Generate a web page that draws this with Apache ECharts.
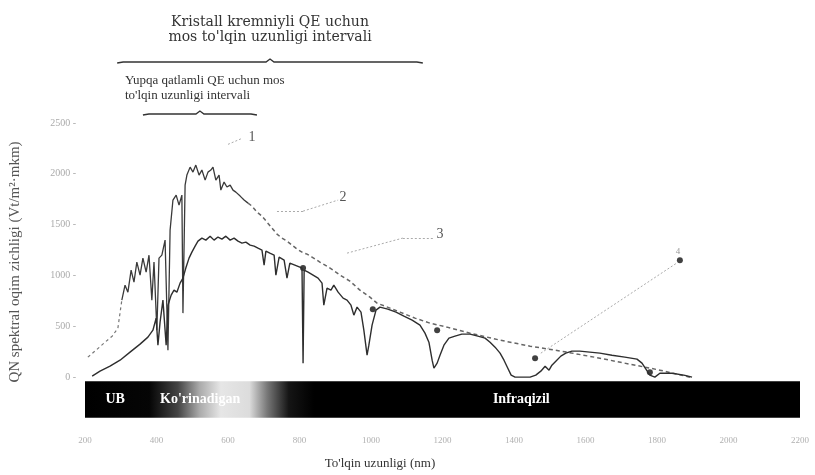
<!DOCTYPE html>
<html>
<head>
<meta charset="utf-8">
<script src="https://cdn.jsdelivr.net/npm/echarts@6/dist/echarts.min.js"></script>
<style>
  html, body { margin: 0; padding: 0; background: #fff; }
  #chart { width: 815px; height: 475px; }
</style>
</head>
<body>
<div id="chart"></div>
<script>
// Wavelength axis (nm) and flux axis (W/m²·µm)
const xMin = 200, xMax = 2200, xStep = 200;
const yMin = -500, yMax = 2500, yStep = 500;

// Curve 1: extraterrestrial spectrum — UV rise (dashed), noisy peak (solid), smooth tail (dashed)
const am0Uv = [[208,197],[231,266],[253,335],[276,403],[292,482],[303,758]];
const am0Peak = [[303,758],[312,905],[320,836],[329,1053],[337,935],[345,1132],[354,1004],[362,1171],
  [371,1033],[379,1200],[387,758],[393,1132],[401,462],[407,1171],[415,1200],[424,1348],[432,266],
  [438,1446],[446,1742],[455,1791],[463,1692],[471,1791],[474,630],[480,1889],[485,1988],[494,2066],
  [502,2017],[510,2086],[519,1988],[527,2037],[536,1938],[544,2017],[552,2037],[558,2066],[566,1938],
  [575,1988],[580,1840],[589,1919],[597,1870],[606,1889],[614,1840],[622,1820],[634,1781],[645,1742],[656,1712]];
const am0Tail = [[656,1712],[667,1683],[681,1624],[695,1584],[709,1525],[723,1466],[737,1407],[751,1368],
  [765,1338],[779,1299],[793,1260],[807,1230],[821,1210],[835,1181],[857,1132],[877,1092],[894,1053],
  [913,1004],[941,945],[969,856],[997,787],[1017,728],[1053,679],[1081,640],[1123,581],[1165,531],
  [1213,492],[1277,433],[1361,364],[1445,305],[1548,246],[1640,187],[1724,128],[1808,69],[1892,0]];

// Curve 3: ground-level spectrum with absorption bands
const am15 = [[220,10],[242,59],[270,108],[298,167],[326,246],[354,325],[376,394],[390,462],[399,581],
  [404,315],[410,541],[418,758],[427,315],[432,708],[441,807],[449,856],[457,836],[466,925],[474,974],
  [482,1073],[491,1171],[499,1230],[508,1289],[516,1338],[527,1368],[538,1348],[550,1387],[561,1348],
  [572,1378],[583,1358],[594,1387],[606,1348],[617,1368],[628,1338],[639,1319],[650,1328],[662,1299],
  [673,1289],[684,1269],[695,1250],[701,1102],[706,1240],[717,1220],[729,1200],[734,1004],[743,1181],
  [757,1151],[765,974],[773,1122],[787,1102],[801,1082],[807,1073],[810,138],[813,1053],[824,1033],
  [838,1004],[852,974],[863,925],[868,708],[877,876],[888,856],[896,905],[908,836],[922,777],[933,758],
  [944,708],[952,610],[961,689],[972,640],[980,462],[989,216],[994,315],[1003,512],[1014,659],[1025,689],
  [1047,669],[1070,640],[1092,600],[1115,561],[1137,512],[1151,433],[1162,344],[1171,167],[1176,89],
  [1185,138],[1193,216],[1204,315],[1218,384],[1235,403],[1254,423],[1277,423],[1299,403],[1319,384],
  [1333,344],[1347,295],[1361,236],[1372,167],[1380,108],[1392,20],[1403,0],[1445,0],[1461,20],[1475,59],
  [1487,108],[1498,69],[1506,118],[1517,157],[1531,207],[1545,236],[1562,256],[1584,256],[1612,246],
  [1640,236],[1674,216],[1710,197],[1744,177],[1758,138],[1769,79],[1780,20],[1794,0],[1808,39],
  [1842,39],[1875,20],[1898,0]];

// Curve 4: discrete points
const dots4 = [[810,1073],[1005,669],[1185,462],[1459,187],[1780,49]];
const dot4Label = [1864,1151];

// Curve number labels and their leader lines
const curveLabels = [
  { text: '1', at: [667,2361] },
  { text: '2', at: [922,1771] },
  { text: '3', at: [1193,1407] }
];
const leaders = [
  [[600,2290],[640,2350]],
  [[737,1633],[810,1633],[908,1742]],
  [[933,1220],[1089,1368],[1173,1368]],
  [[1475,236],[1855,1122]]
];

// Spectral band strip below the zero line
const bandRange = [-400, -40];
const bandLabels = [
  { text: 'UB', x: 257 },
  { text: "Ko'rinadigan", x: 410 },
  { text: 'Infraqizil', x: 1341 }
];

// Wavelength intervals suited to each cell type
const crystalRange = [290, 1145];
const thinRange = [362, 681];

const serif = '"Liberation Serif", "DejaVu Serif", serif';
const wideSerif = '"DejaVu Serif", "Liberation Serif", serif';

const chart = echarts.init(document.getElementById('chart'), null, { renderer: 'canvas' });

const option = {
  animation: false,
  backgroundColor: '#ffffff',
  grid: { left: 85, right: 15, top: 123, bottom: 47, containLabel: false },
  xAxis: {
    type: 'value', min: xMin, max: xMax, interval: xStep,
    axisLine: { show: false }, axisTick: { show: false },
    splitLine: { show: false },
    axisLabel: { color: '#b0b0b0', fontSize: 9, fontFamily: serif, margin: 8, formatter: v => String(v) }
  },
  yAxis: {
    type: 'value', min: yMin, max: yMax, interval: yStep,
    axisLine: { show: false }, axisTick: { show: false },
    splitLine: { show: false },
    axisLabel: {
      color: '#aaa', fontSize: 10, fontFamily: serif, margin: 9,
      formatter: v => (v < 0 ? '' : v + ' -')
    }
  },
  series: [
    {
      type: 'line', data: [], silent: true,
      markArea: {
        silent: true,
        itemStyle: {
          color: new echarts.graphic.LinearGradient(0, 0, 1, 0, [
            { offset: 0.0, color: '#000' }, { offset: 0.09, color: '#050505' },
            { offset: 0.13, color: '#444' }, { offset: 0.16, color: '#aaa' },
            { offset: 0.19, color: '#e6e6e6' }, { offset: 0.23, color: '#dcdcdc' },
            { offset: 0.255, color: '#777' }, { offset: 0.285, color: '#151515' },
            { offset: 0.32, color: '#000' }, { offset: 1, color: '#000' }
          ])
        },
        data: [[{ xAxis: xMin, yAxis: bandRange[1] }, { xAxis: xMax, yAxis: bandRange[0] }]]
      }
    },
    {
      name: 'am0-uv', type: 'line', data: am0Uv, showSymbol: false,
      lineStyle: { color: '#777', width: 1.2, type: [3, 3] }
    },
    {
      name: 'am0-peak', type: 'line', data: am0Peak, showSymbol: false,
      lineStyle: { color: '#3a3a3a', width: 1.3 }
    },
    {
      name: 'am0-tail', type: 'line', data: am0Tail, showSymbol: false,
      lineStyle: { color: '#666', width: 1.5, type: [4, 3] }
    },
    {
      name: 'am15', type: 'line', data: am15, showSymbol: false,
      lineStyle: { color: '#2e2e2e', width: 1.4 }
    },
    {
      name: 'dots', type: 'scatter', data: dots4.concat([dot4Label]),
      symbolSize: 6, itemStyle: { color: '#111' }
    },
    {
      name: 'leaders', type: 'line', data: [], silent: true,
      markLine: {
        silent: true, symbol: 'none', label: { show: false },
        lineStyle: { color: '#aaa', width: 1, type: [2, 2] },
        data: leaders.flatMap(pts => pts.slice(1).map((p, i) => [{ coord: pts[i] }, { coord: p }]))
      }
    }
  ]
};
chart.setOption(option);

const toPx = (x, y) => chart.convertToPixel({ gridIndex: 0 }, [x, y]);
const graphics = [];
const txt = (x, y, text, font, fill, align) => ({
  type: 'text', x, y, z: 100,
  style: { text, fill, font, textAlign: align || 'center', textVerticalAlign: 'middle' }
});

// Curve number labels
curveLabels.forEach(l => {
  const p = toPx(l.at[0], l.at[1]);
  graphics.push(txt(p[0], p[1], l.text, '14px ' + serif, '#555'));
});
const p4 = toPx(dot4Label[0], dot4Label[1]);
graphics.push(txt(p4[0] - 2, p4[1] - 9, '4', '9px ' + serif, '#999'));

// Band captions
const bandMid = (bandRange[0] + bandRange[1]) / 2;
bandLabels.forEach(b => {
  const p = toPx(b.x, bandMid);
  graphics.push(txt(p[0], p[1], b.text, 'bold 14px ' + serif, '#fff', 'left'));
});

// Interval braces with their captions
function brace(range, y, color) {
  const a = toPx(range[0], 0)[0], b = toPx(range[1], 0)[0];
  const m = (a + b) / 2;
  graphics.push({ type: 'polyline', z: 100,
    shape: { points: [[a, y + 1], [a + 6, y], [m - 4, y], [m, y - 3], [m + 4, y], [b - 6, y], [b, y + 1]] },
    style: { stroke: color, lineWidth: 1.4, fill: null } });
}
brace(crystalRange, 62, '#333');
brace(thinRange, 114, '#333');

graphics.push(txt(270, 22, 'Kristall kremniyli QE uchun', '14px ' + wideSerif, '#333'));
graphics.push(txt(270, 37, "mos to'lqin uzunligi intervali", '14px ' + wideSerif, '#333'));
graphics.push(txt(125, 81, 'Yupqa qatlamli QE uchun mos', '13px ' + serif, '#333', 'left'));
graphics.push(txt(125, 96, "to'lqin uzunligi intervali", '13px ' + serif, '#333', 'left'));

// Axis titles
graphics.push(txt(380, 464, "To'lqin uzunligi (nm)", '13px ' + serif, '#333'));
graphics.push({ type: 'text', x: 15, y: 262, rotation: Math.PI / 2, z: 100,
  style: { text: 'QN spektral oqim zichligi (Vt/m²·mkm)', fill: '#555', font: '15px ' + serif,
    textAlign: 'center', textVerticalAlign: 'middle' } });

chart.setOption({ graphic: graphics });
</script>
</body>
</html>
